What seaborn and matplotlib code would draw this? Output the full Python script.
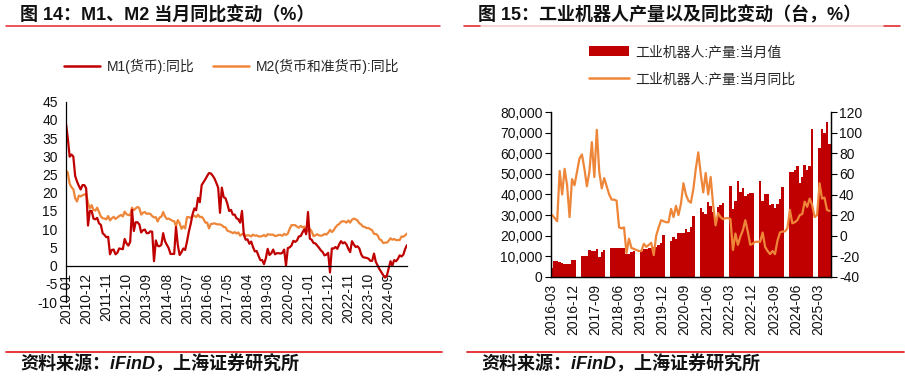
import numpy as np
import pandas as pd
import matplotlib
matplotlib.use("Agg")
import matplotlib.pyplot as plt
import matplotlib.ticker as mticker
from matplotlib.lines import Line2D
from matplotlib.patches import Patch
import seaborn as sns

# ---------------- data: left chart (M1 / M2 yoy, %) ----------------
m_start = "2010-01"
m1_yoy = [
    39.0, 34.9, 29.9, 30.5, 29.9, 24.6, 23.1, 21.9, 20.9, 22.1, 22.1, 21.2,
    11.0, 15.0, 15.0, 12.9, 12.7, 13.1, 11.6, 11.2, 8.9, 8.4, 7.8, 7.9,
    3.1, 4.3, 4.4, 3.1, 3.5, 4.7, 4.6, 4.5, 7.3, 6.1, 5.5, 6.5,
    15.3, 9.5, 11.9, 11.9, 11.3, 9.1, 9.7, 9.9, 8.9, 8.9, 9.4, 9.3,
    1.2, 6.9, 5.4, 5.3, 5.7, 8.9, 6.7, 5.7, 4.8, 3.2, 3.2, 3.2,
    10.6, 5.6, 2.9, 3.7, 4.7, 4.3, 6.6, 9.3, 11.4, 14.0, 15.7, 15.2,
    18.6, 17.4, 22.1, 22.9, 23.7, 24.6, 25.4, 25.3, 24.7, 23.9, 22.7, 21.4,
    14.5, 21.4, 18.8, 18.5, 17.0, 15.0, 15.3, 14.0, 14.0, 13.0, 12.7, 11.8,
    15.0, 8.5, 7.1, 7.2, 6.0, 6.6, 5.1, 3.9, 4.0, 2.7, 1.5, 1.5,
    0.4, 2.0, 4.6, 2.9, 3.4, 4.4, 3.1, 3.4, 3.4, 3.3, 3.5, 4.4,
    0.0, 4.8, 5.0, 5.5, 6.8, 6.5, 6.9, 8.0, 8.1, 9.1, 10.0, 8.6,
    14.7, 7.4, 7.1, 6.2, 6.1, 5.5, 4.9, 4.2, 3.7, 2.8, 3.0, 3.5,
    -1.9, 4.7, 4.7, 5.1, 4.6, 5.8, 6.7, 6.1, 6.4, 5.8, 4.6, 3.7,
    6.7, 5.8, 5.1, 5.3, 4.7, 3.1, 2.3, 2.2, 2.1, 1.9, 1.3, 1.3,
    3.3, 1.0, 0.0, -1.0, -1.8, -2.6, -3.3, -2.8, -0.8, 1.2, 0.0, 1.5,
    1.2, 1.8, 2.8, 2.5, 3.0, 4.6, 5.6,
]
m2_yoy = [
    26.1, 25.5, 22.5, 21.5, 21.0, 18.5, 17.6, 19.2, 19.0, 19.3, 19.5, 19.7,
    17.2, 15.7, 16.6, 15.3, 15.1, 15.9, 14.7, 13.5, 13.0, 12.9, 12.7, 13.6,
    12.4, 13.0, 13.4, 12.8, 13.2, 13.6, 13.9, 13.5, 14.8, 14.1, 13.9, 13.8,
    15.9, 15.2, 15.7, 16.1, 15.8, 14.0, 14.5, 14.7, 14.2, 14.3, 14.2, 13.6,
    13.2, 13.3, 12.1, 13.2, 13.4, 14.7, 13.5, 12.8, 12.9, 12.6, 12.3, 12.2,
    10.8, 12.5, 11.6, 10.1, 10.8, 10.2, 13.3, 13.3, 13.1, 13.5, 13.7, 13.3,
    14.0, 13.3, 13.4, 12.8, 11.8, 11.8, 10.2, 11.4, 11.5, 11.6, 11.4, 11.3,
    11.3, 11.1, 10.6, 10.5, 9.6, 9.4, 9.2, 8.9, 9.2, 8.8, 9.1, 8.2,
    8.6, 8.8, 8.2, 8.3, 8.3, 8.0, 8.5, 8.2, 8.3, 8.0, 8.0, 8.1,
    8.4, 8.0, 8.6, 8.5, 8.5, 8.5, 8.1, 8.2, 8.4, 8.4, 8.2, 8.7,
    8.4, 8.8, 10.1, 11.1, 11.1, 11.1, 10.7, 10.4, 10.9, 10.5, 10.7, 10.1,
    9.4, 10.1, 9.4, 8.1, 8.3, 8.6, 8.3, 8.2, 8.3, 8.7, 8.5, 9.0,
    9.8, 9.2, 9.7, 10.5, 11.1, 11.4, 12.0, 12.2, 12.1, 11.8, 12.4, 11.8,
    12.6, 12.9, 12.7, 12.4, 11.6, 11.3, 10.7, 10.6, 10.3, 10.3, 10.0, 9.7,
    8.7, 8.7, 8.3, 7.2, 7.0, 6.2, 6.3, 6.3, 6.8, 7.5, 7.1, 7.3,
    7.0, 7.0, 7.0, 8.0, 7.9, 8.3, 8.8,
]
m_tick_step = 11
m_yticks = [-10, -5, 0, 5, 10, 15, 20, 25, 30, 35, 40, 45]
m1_label = "M1(货币):同比"
m2_label = "M2(货币和准货币):同比"
left_title = "图 14：M1、M2 当月同比变动（%）"

# ---------------- data: right chart (industrial robots) ----------------
r_start = "2016-03"
nan = np.nan
robot_output = [
    4100, 7600, 7600, 7300, 6700, 6000, 6300, 6000, 7900, 8300, nan, nan,
    10200, 10200, 10100, 12800, 12700, 12700, 13500, 9500, 12200, 13000, nan, nan,
    14100, 13800, 13900, 14100, 14100, 14100, 10900, 11200, 12200, 12500, nan, nan,
    12500, 13300, 13500, 13800, 14100, 14400, 14600, 15400, 16500, 20300, nan, nan,
    17400, 19100, 18300, 21100, 21100, 21100, 23200, 21900, 24000, 29700, nan, nan,
    33300, 31600, 30300, 36500, 34500, 31600, 28000, 34100, 34900, 35700, nan, nan,
    44300, 32800, 36800, 46700, 41400, 43300, 39300, 40000, 40600, 40600, nan, nan,
    46500, 37000, 40000, 40000, 35000, 35500, 33300, 35500, 38000, 43500, nan, nan,
    51100, 51100, 51900, 53900, 45700, 48700, 54300, 51900, 53900, 71900, nan, nan,
    62400, 71900, 69700, 75300, 64400,
]
robot_yoy = [
    20, 17, 14, 63, 40, 65, 49, 18, 55, 49, 62, 75,
    79, 65, 48, 62, 91, 57, 103, 62, 46, 56, 48, 40,
    35, 35, 34, 8, 7, 8, -17, -3, -12, -13, -14, -15,
    -15, -8, -11, -9, -7, -19, 0, 8, 15, 14, 13, 13,
    26, 18, 29, 20, 31, 51, 40, 34, 32, 45, 65, 81,
    60, 42, 61, 40, 57, 30, 10, 22, 18, 16, 17, 17,
    16, -14, 2, -9, -1, 5, 15, 4, -9, -8, -6, -6,
    -6, 3, -11, -15, -18, -15, -18, -5, 3, 4, 4, 7,
    25, 12, 13, 15, 20, 21, 33, 28, 36, 30, 18, 20,
    51, 36, 37, 25, 24,
]
r_tick_step = 9
r_left_ticks = [0, 10000, 20000, 30000, 40000, 50000, 60000, 70000, 80000]
r_right_ticks = [-40, -20, 0, 20, 40, 60, 80, 100, 120]
bar_label = "工业机器人:产量:当月值"
line_label = "工业机器人:产量:当月同比"
right_title = "图 15：工业机器人产量以及同比变动（台，%）"
source_text = "资料来源：iFinD，上海证券研究所"

# ---------------- styling ----------------
RED = "#C00000"
ORANGE = "#EE8639"
LINE_RED = "#E3262B"
W, H = 905, 379

sns.set_theme(style="white")
plt.rcParams["font.family"] = ["Liberation Sans", "Noto Sans CJK SC", "DejaVu Sans"]
plt.rcParams["axes.unicode_minus"] = False
FAM = ["Liberation Sans", "Noto Sans CJK SC", "DejaVu Sans"]

fig = plt.figure(figsize=(W / 100, H / 100), dpi=100)


def fx(px):
    return px / W


def fy(py):
    return 1 - py / H


# ---------------- left chart ----------------
nL = len(m1_yoy)
m_dates = pd.period_range(m_start, periods=nL, freq="M").strftime("%Y-%m")
dfL = pd.DataFrame({"idx": np.arange(nL), "M1": m1_yoy, "M2": m2_yoy})

axL = fig.add_axes([fx(66), fy(302), fx(407) - fx(66), fy(101.7) - fy(302)])
for s in ["top", "right"]:
    axL.spines[s].set_visible(False)
axL.spines["bottom"].set_position(("data", 0))
sns.lineplot(data=dfL, x="idx", y="M2", color=ORANGE, lw=1.6, ax=axL)
sns.lineplot(data=dfL, x="idx", y="M1", color=RED, lw=1.6, ax=axL)
axL.set_xlim(0, nL - 1)
axL.set_ylim(-10, 45)
axL.set_yticks(m_yticks)
tickpos = list(range(0, nL, m_tick_step))
axL.set_xticks(tickpos)
axL.set_xticklabels([m_dates[i] for i in tickpos])
axL.set_xlabel("")
axL.set_ylabel("")
for s in ["left", "bottom"]:
    axL.spines[s].set_color("black")
    axL.spines[s].set_linewidth(0.9)
axL.tick_params(axis="both", which="both", direction="out", length=4, width=0.8,
                color="black", labelsize=10, labelcolor="#111111", pad=2)
axL.tick_params(axis="x", pad=1, labelrotation=90)

fig.legend(
    handles=[Line2D([], [], color=RED, lw=1.8), Line2D([], [], color=ORANGE, lw=1.8)],
    labels=[m1_label, m2_label], ncol=2, loc="center left",
    bbox_to_anchor=(fx(57), fy(66)), frameon=False, borderpad=0,
    handlelength=2.6, handletextpad=0.5, columnspacing=1.3,
    prop={"family": FAM, "size": 10},
)

# ---------------- right chart ----------------
nR = len(robot_output)
r_dates = pd.period_range(r_start, periods=nR, freq="M").strftime("%Y-%m")
dfR = pd.DataFrame({"pos": np.arange(nR) + 0.5, "out": robot_output, "yoy": robot_yoy})

axR = fig.add_axes([fx(551), fy(276.7), fx(830.7) - fx(551), fy(112.3) - fy(276.7)])
axR.bar(dfR["pos"], dfR["out"], width=1.0, color=RED, linewidth=0)
axR.set_xlim(0, nR)
axR.set_ylim(0, 80000)
axR.set_yticks(r_left_ticks)
axR.yaxis.set_major_formatter(mticker.StrMethodFormatter("{x:,.0f}"))
rtick = list(range(0, nR, r_tick_step))
axR.set_xticks(rtick)
axR.set_xticklabels([r_dates[i] for i in rtick])

axR2 = axR.twinx()
sns.lineplot(data=dfR, x="pos", y="yoy", color=ORANGE, lw=1.6, ax=axR2)
axR2.set_ylim(-40, 120)
axR2.set_yticks(r_right_ticks)
axR2.set_xlim(0, nR)
for a in (axR, axR2):
    a.set_xlabel("")
    a.set_ylabel("")
    a.spines["top"].set_visible(False)
    for s in ["left", "right", "bottom"]:
        a.spines[s].set_color("black")
        a.spines[s].set_linewidth(0.9)
    a.tick_params(axis="both", which="both", direction="out", length=4, width=0.8,
                  color="black", labelsize=10, labelcolor="#111111", pad=2)
axR.tick_params(axis="x", pad=1, labelrotation=90)

fig.legend(
    handles=[Patch(facecolor=RED, edgecolor="none"), Line2D([], [], color=ORANGE, lw=1.8)],
    labels=[bar_label, line_label], ncol=1, loc="center left",
    bbox_to_anchor=(fx(582), fy(65.5)), frameon=False, borderpad=0,
    handlelength=2.9, handletextpad=0.4, labelspacing=0.95,
    prop={"family": FAM, "size": 10},
)

# ---------------- titles, rules, sources ----------------
fig.text(fx(20), fy(15), left_title, fontsize=13, fontweight="bold", va="center",
         ha="left", family=FAM, color="#111111")
fig.text(fx(478), fy(15), right_title, fontsize=13, fontweight="bold", va="center",
         ha="left", family=FAM, color="#111111")
fig.add_artist(Line2D([fx(6), fx(440)], [fy(26), fy(26)], color=LINE_RED, lw=1.1,
                      transform=fig.transFigure))
fig.add_artist(Line2D([fx(464), fx(900)], [fy(26), fy(26)], color="#F7C8C8", lw=1.1,
                      transform=fig.transFigure))
fig.add_artist(Line2D([fx(464), fx(480)], [fy(26), fy(26)], color=LINE_RED, lw=1.1,
                      transform=fig.transFigure))
fig.add_artist(Line2D([fx(884), fx(900)], [fy(26), fy(26)], color=LINE_RED, lw=1.1,
                      transform=fig.transFigure))

fig.add_artist(Line2D([fx(6), fx(442)], [fy(351.5), fy(351.5)], color=LINE_RED, lw=1.3,
                      transform=fig.transFigure))
fig.add_artist(Line2D([fx(467), fx(904)], [fy(351.5), fy(351.5)], color=LINE_RED, lw=1.3,
                      transform=fig.transFigure))
fig.text(fx(20), fy(364), source_text, fontsize=13, fontstyle="italic", fontweight="bold",
         va="center", ha="left", family=FAM, color="#111111")
fig.text(fx(481), fy(364), source_text, fontsize=13, fontstyle="italic", fontweight="bold",
         va="center", ha="left", family=FAM, color="#111111")

fig.savefig("out.png", dpi=100, facecolor="white")
